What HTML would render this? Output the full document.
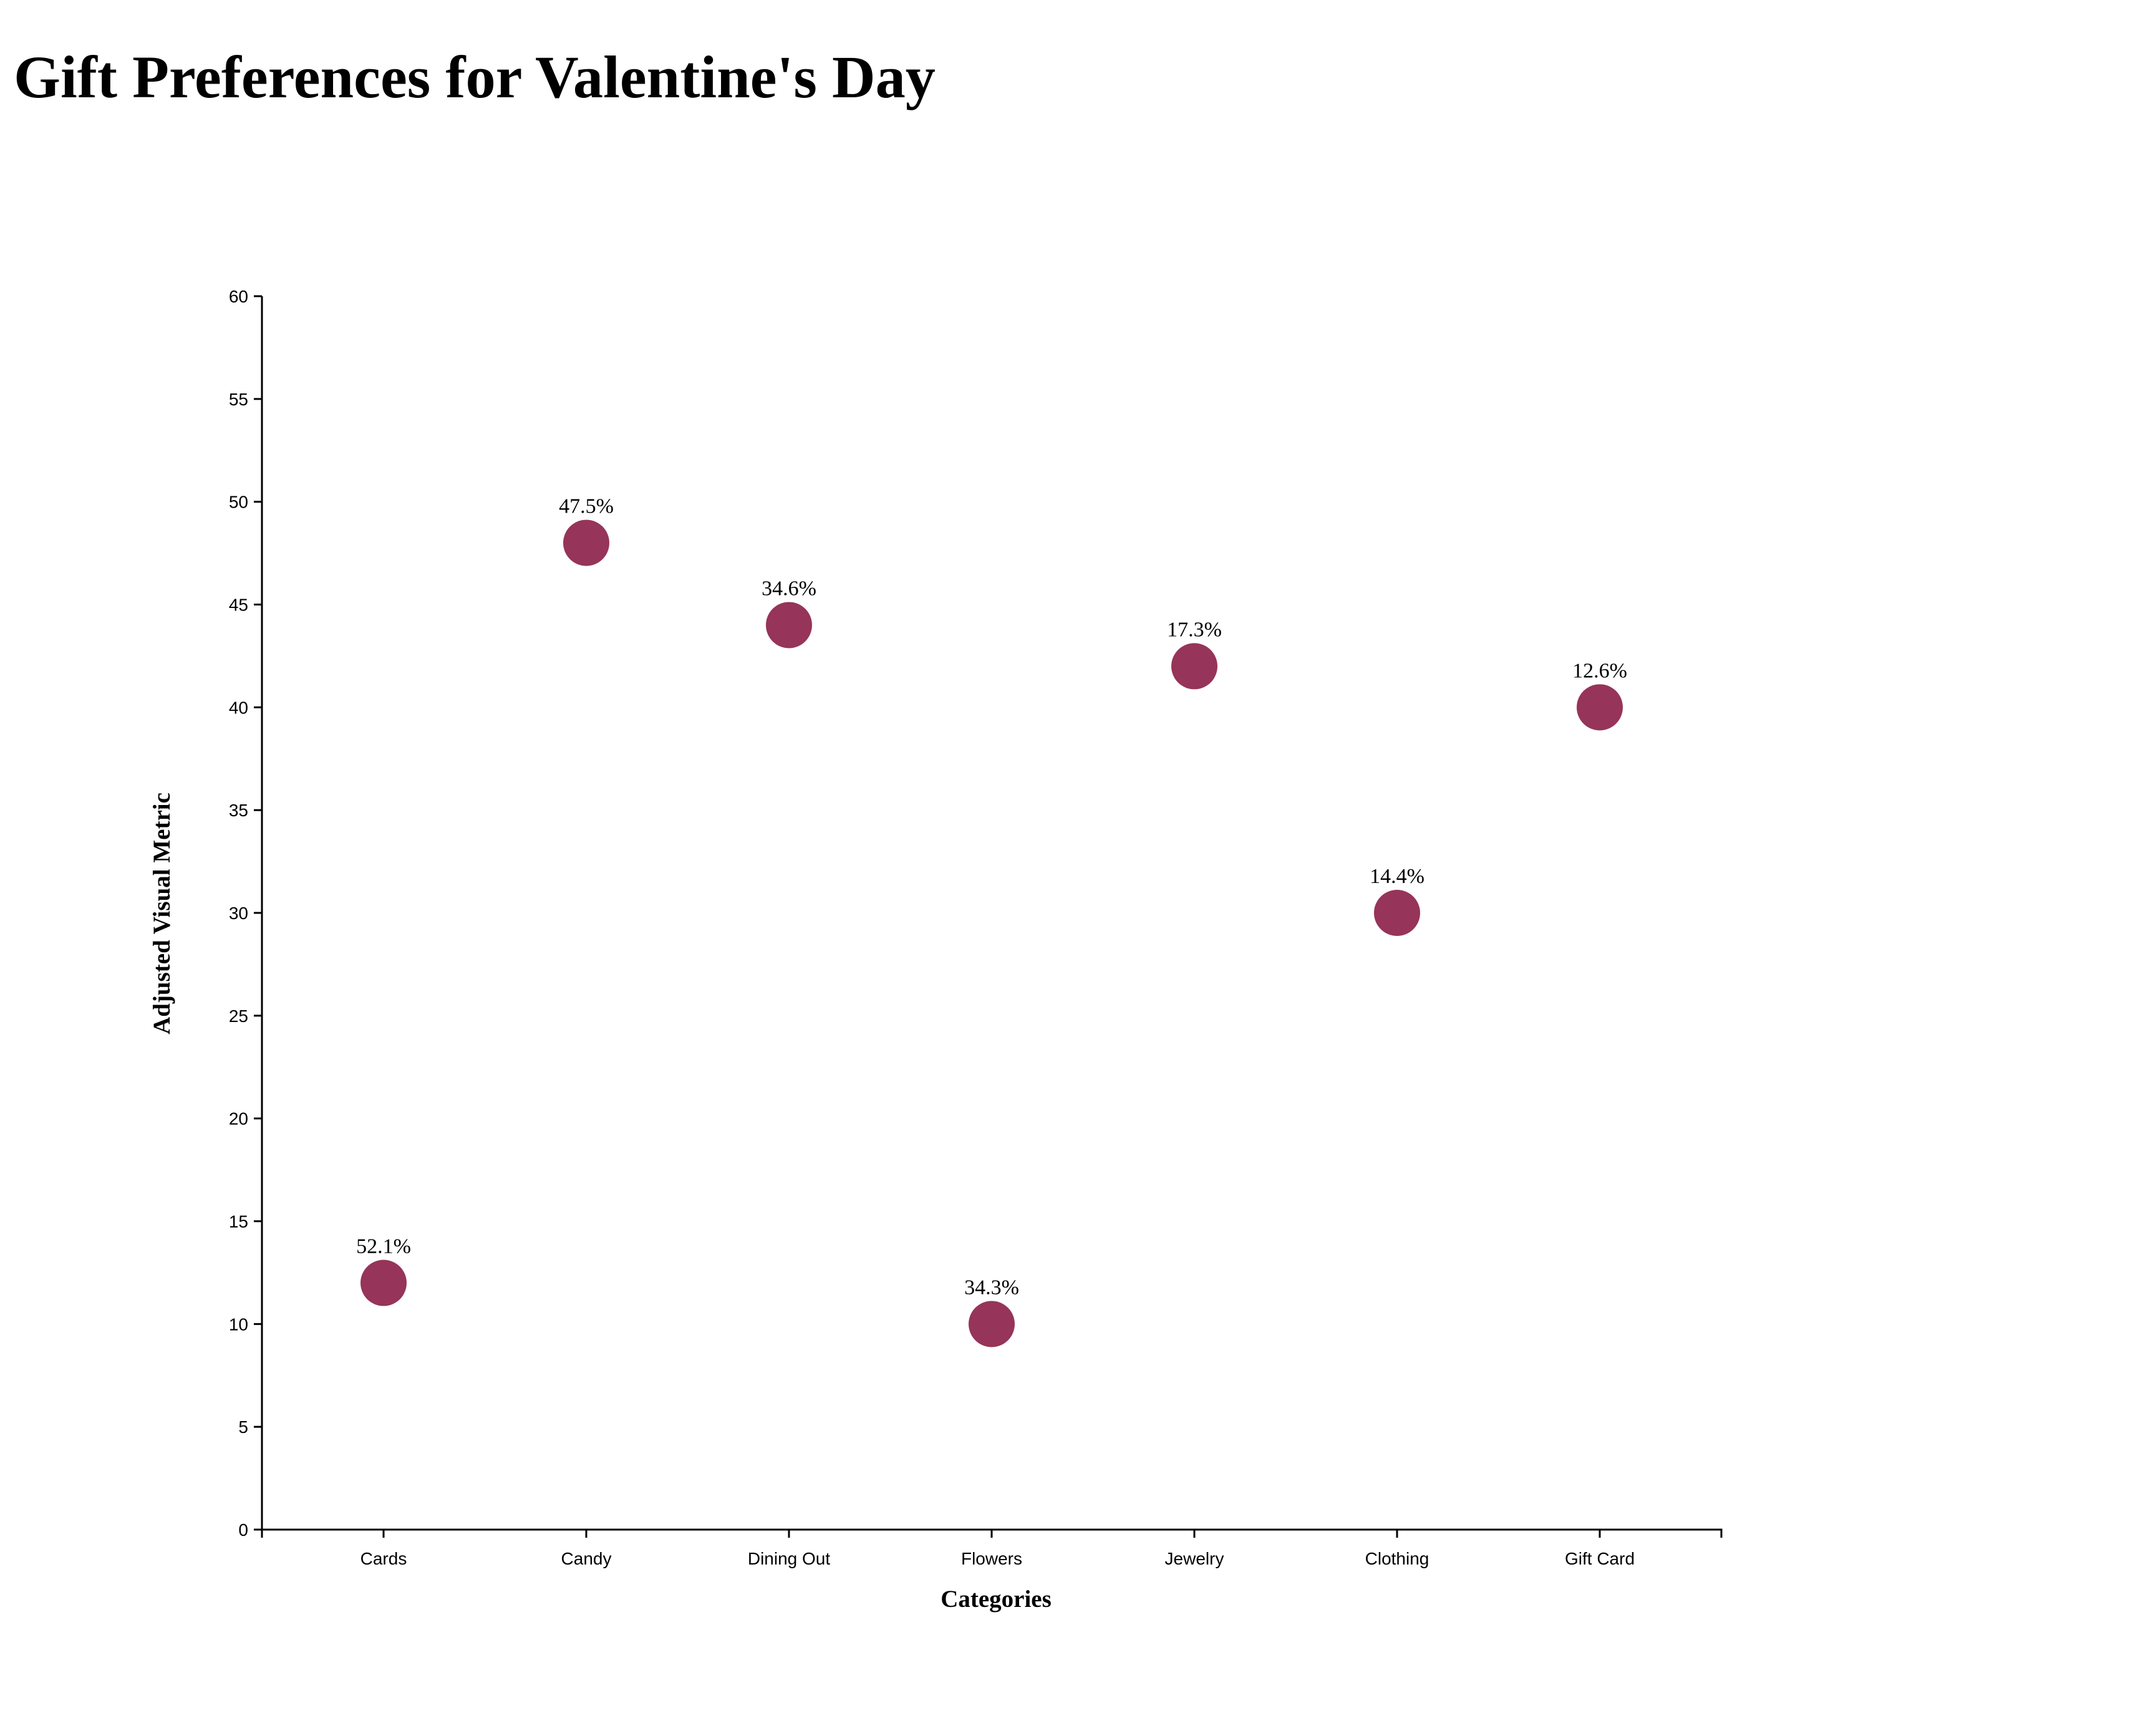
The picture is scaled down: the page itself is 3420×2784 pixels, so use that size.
<!DOCTYPE html>
<html><head><meta charset="utf-8"><style>
html,body{margin:0;padding:0;background:#fff;}
svg{display:block;}
</style></head><body>
<svg id="chart" width="3420" height="2784" viewBox="0 0 3420 2784" xmlns="http://www.w3.org/2000/svg">
<text x="22" y="156" font-family="Liberation Serif, serif" font-weight="bold" font-size="96" textLength="1478" lengthAdjust="spacingAndGlyphs">Gift Preferences for Valentine's Day</text>
<g id="axes"></g>
<g id="marks"></g>
<text x="1597" y="2577" text-anchor="middle" font-family="Liberation Serif, serif" font-weight="bold" font-size="39">Categories</text>
<text transform="translate(272,1465) rotate(-90)" text-anchor="middle" font-family="Liberation Serif, serif" font-weight="bold" font-size="39">Adjusted Visual Metric</text>
</svg>
<script>
const categories = ["Cards","Candy","Dining Out","Flowers","Jewelry","Clothing","Gift Card"];
const metricValues = [12,48,44,10,42,30,40];
const percentLabels = ["52.1%","47.5%","34.6%","34.3%","17.3%","14.4%","12.6%"];
const yTicks = [0,5,10,15,20,25,30,35,40,45,50,55,60];

const NS="http://www.w3.org/2000/svg";
const x0=420, x1=2760, yTop=475, yBot=2453;
const pad=0.6, step=(x1-x0)/(categories.length-1+2*pad);
function xScale(i){return x0+step*(pad+i);}
function yScale(v){return yBot-(v-0)/(60-0)*(yBot-yTop);}
function mk(tag,attrs,parent){const e=document.createElementNS(NS,tag);for(const k in attrs)e.setAttribute(k,attrs[k]);parent.appendChild(e);return e;}
const axes=document.getElementById('axes'), marks=document.getElementById('marks');

const yAxis=mk('line',{x1:x0,x2:x0,y1:yTop,y2:yBot,stroke:'#000','stroke-width':3},axes);


const xAxis=mk('path',{d:`M${x0},${yBot+13}V${yBot}H${x1}V${yBot+13}`,fill:'none',stroke:'#000','stroke-width':3},axes);



yTicks.forEach(v=>{
  const y=yScale(v);
  const t=mk('line',{x1:x0-13,x2:x0,y1:y,y2:y,stroke:'#000','stroke-width':3},axes);
  
  
  const l=mk('text',{x:x0-22,y:y+10,'text-anchor':'end','font-family':'Liberation Sans, sans-serif','font-size':28},axes);
  
  
  l.textContent=v;
});
categories.forEach((c,i)=>{
  const x=xScale(i);
  const t=mk('line',{x1:x,x2:x,y1:yBot,y2:yBot+13,stroke:'#000','stroke-width':3},axes);
  
  
  const l=mk('text',{x:x,y:yBot+56,'text-anchor':'middle','font-family':'Liberation Sans, sans-serif','font-size':28},axes);
  
  
  l.textContent=c;
  const cx=x, cy=yScale(metricValues[i]);
  const d=mk('circle',{cx:cx,cy:cy,r:37,fill:'#963459'},marks);
  
  
  const p=mk('text',{x:cx,y:cy-48,'text-anchor':'middle','font-family':'Liberation Serif, serif','font-size':34},marks);
  
  
  p.textContent=percentLabels[i];
});
</script>
</body></html>
